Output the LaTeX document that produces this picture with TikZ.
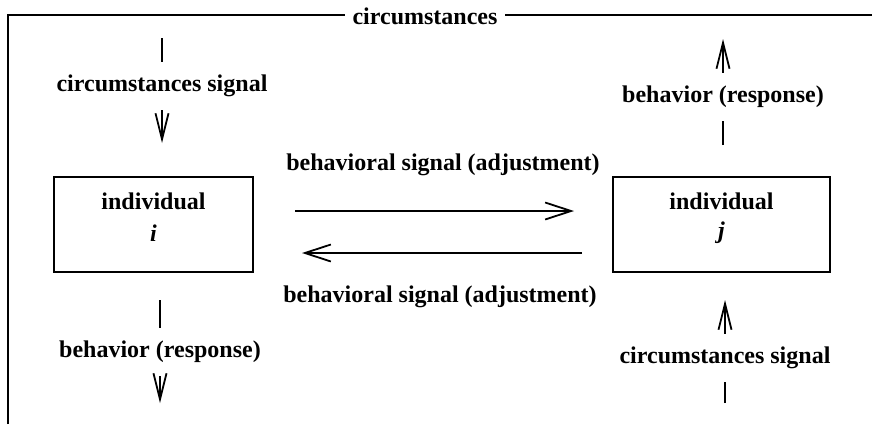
\documentclass[tikz,border=0pt]{standalone}
\usepackage{fontspec}
\setmainfont{Liberation Serif}
\usetikzlibrary{arrows.meta}
\begin{document}
\begin{tikzpicture}[x=0.5pt,y=-0.5pt,
  txt/.style={font=\fontsize{12}{14}\selectfont\bfseries, inner xsep=0pt, inner ysep=6.5pt},
  ibox/.style={draw, line width=1pt, minimum height=47.5pt, inner sep=0pt},
  conn/.style={line width=0.9pt},
  arr/.style={conn, -{Straight Barb[length=13pt,width=6.5pt,line width=0.9pt]}},
  harr/.style={conn, -{Straight Barb[length=13pt,width=8.5pt,line width=0.9pt]}},
  frame/.style={line width=1pt}]
\useasboundingbox (0,0) rectangle (872,424);
% frame
\draw[frame] (8,424) -- (8,15) -- (872,15);
\node[txt, fill=white, inner xsep=4pt, inner ysep=2pt] (title) at (425,16) {circumstances};
% boxes
\node[ibox, minimum width=99.5pt] (bi) at (153.5,224.5) {};
\node[txt, inner ysep=0pt] (bit) at (153.5,201) {individual};
\node[font=\fontsize{12}{14}\selectfont\bfseries\itshape, inner sep=0pt] (bii) at (153.5,233) {i};
\node[ibox, minimum width=108.5pt] (bj) at (721.5,224.5) {};
\node[txt, inner ysep=0pt] (bjt) at (721.5,201) {individual};
\node[font=\fontsize{12}{14}\selectfont\bfseries\itshape, inner sep=0pt] (bjj) at (721.5,233) {j};
% upper left
\coordinate (ul1) at (162,38);
\coordinate (ul2) at (162,143);
\node[txt] (ulab) at (162,86) {circumstances signal};
\draw[conn] (ul1) -- (ulab.north);
\draw[arr] (ulab.south) -- (ul2);
% upper right
\coordinate (ur1) at (723,145);
\coordinate (ur2) at (723,39);
\node[txt] (urlab) at (723,97) {behavior (response)};
\draw[conn] (ur1) -- (urlab.south);
\draw[arr] (urlab.north) -- (ur2);
% lower left
\coordinate (ll1) at (160,300);
\coordinate (ll2) at (160,403);
\node[txt] (lllab) at (160,352) {behavior (response)};
\draw[conn] (ll1) -- (lllab.north);
\draw[arr] (lllab.south) -- (ll2);
% lower right
\coordinate (lr1) at (725,403);
\coordinate (lr2) at (725,300);
\node[txt] (lrlab) at (725,358) {circumstances signal};
\draw[conn] (lr1) -- (lrlab.south);
\draw[arr] (lrlab.north) -- (lr2);
% middle
\node[txt, inner ysep=0pt] (mtop) at (443,165) {behavioral signal (adjustment)};
\node[txt, inner ysep=0pt] (mbot) at (440,297) {behavioral signal (adjustment)};
\coordinate (m1) at (295,211);
\coordinate (m2) at (574,211);
\coordinate (m3) at (582,253);
\coordinate (m4) at (302,253);
\draw[harr] (m1) -- (m2);
\draw[harr] (m3) -- (m4);
\end{tikzpicture}
\end{document}
